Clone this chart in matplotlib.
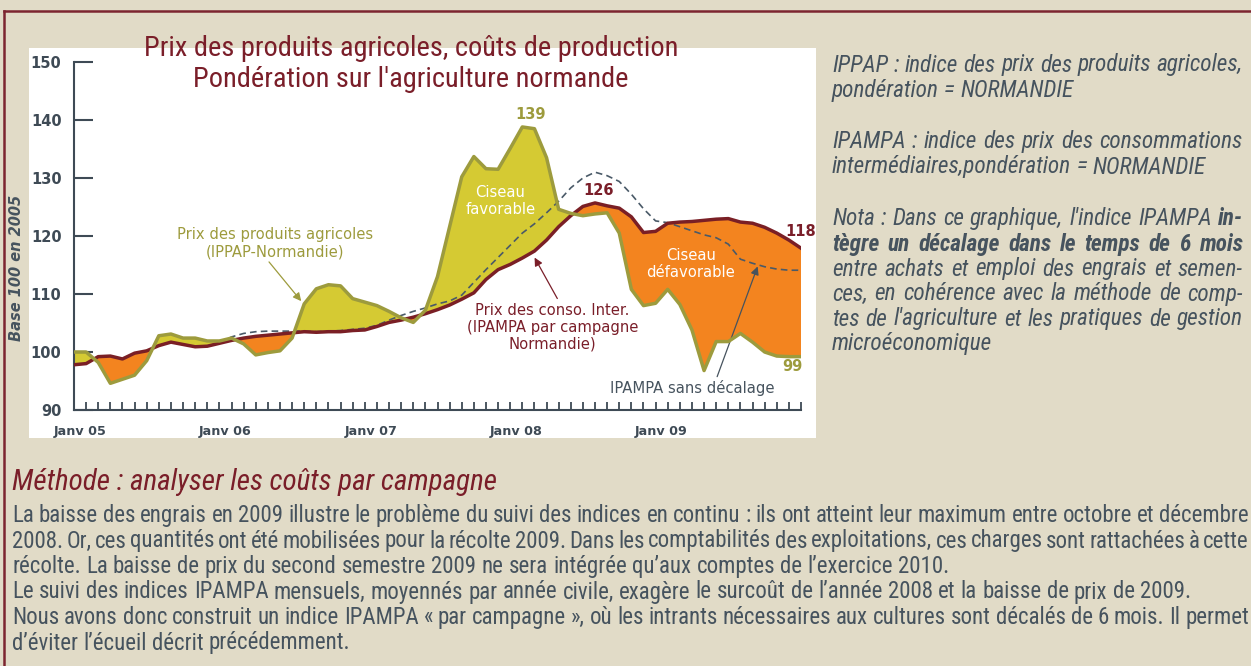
import numpy as np
import matplotlib
matplotlib.use("Agg")
import matplotlib.pyplot as plt
from matplotlib.patches import Rectangle
from matplotlib.lines import Line2D
from matplotlib.font_manager import FontProperties
from matplotlib import font_manager as fm

# ---------------- data ----------------
months = np.arange(61)  # 0 = janvier 2005 ... 60 = janvier 2010
year_pos = [0, 12, 24, 36, 48]
year_labels = ["Janv 05", "Janv 06", "Janv 07", "Janv 08", "Janv 09"]
yticks = [90, 100, 110, 120, 130, 140, 150]

ippap = [100.0, 100.0, 98.2, 94.6, 95.3, 96.0, 98.5, 102.8, 103.1, 102.4,
         102.4, 101.9, 101.9, 102.4, 101.4, 99.5, 99.9, 100.2, 102.4, 108.3,
         110.9, 111.6, 111.4, 109.2, 108.6, 108.0, 107.0, 105.9, 105.1, 107.2,
         113.0, 121.6, 130.2, 133.7, 131.6, 131.5, 135.1, 138.8, 138.5, 133.5,
         124.6, 123.9, 123.5, 123.8, 124.0, 120.5, 110.8, 108.0, 108.4, 110.8,
         108.2, 103.8, 96.8, 101.8, 101.8, 103.2, 101.7, 100.0, 99.3, 99.2,
         99.2]

ipampa_campagne = [97.8, 98.0, 99.2, 99.3, 98.8, 99.8, 100.2, 101.1, 101.7, 101.3,
                   100.9, 101.0, 101.5, 102.0, 102.4, 102.7, 102.9, 103.1, 103.3, 103.5,
                   103.4, 103.5, 103.5, 103.7, 103.8, 104.4, 105.1, 105.5, 106.0, 106.6,
                   107.3, 108.1, 109.1, 110.2, 112.5, 114.2, 115.1, 116.2, 117.4, 119.3,
                   121.6, 123.5, 125.1, 125.7, 125.2, 124.8, 123.3, 120.6, 120.8, 122.2,
                   122.4, 122.5, 122.7, 122.9, 123.0, 122.4, 122.2, 121.5, 120.5, 119.3,
                   117.9]

ipampa_sans_decalage = [97.8, 98.0, 99.2, 99.3, 98.8, 99.8, 100.2, 101.1, 101.7, 101.3,
                        100.9, 101.0, 101.6, 102.6, 103.2, 103.5, 103.6, 103.6, 103.6, 103.6,
                        103.5, 103.6, 103.7, 103.9, 104.1, 104.6, 105.5, 106.3, 107.0, 107.6,
                        108.3, 108.8, 109.8, 112.0, 114.2, 116.3, 118.4, 120.5, 122.1, 124.0,
                        126.0, 128.3, 130.0, 131.0, 130.4, 129.4, 127.2, 124.7, 122.6, 122.3,
                        121.6, 120.9, 120.2, 119.7, 118.6, 116.0, 115.3, 114.7, 114.3, 114.1,
                        114.1]

title_lines = ["Prix des produits agricoles, coûts de production",
               "Pondération sur l'agriculture normande"]

right_paras = [
    [("IPPAP : indice des prix des produits agricoles,", ""), ("pondération = NORMANDIE", "")],
    [("IPAMPA : indice des prix des consommations", ""), ("intermédiaires,pondération = NORMANDIE", "")],
    [("Nota : Dans ce graphique, l'indice IPAMPA", "in-"),
     ("", "tègre un décalage dans le temps de 6 mois"),
     ("entre achats et emploi des engrais et semen-", ""),
     ("ces, en cohérence avec la méthode de comp-", ""),
     ("tes de l'agriculture et les pratiques de gestion", ""),
     ("microéconomique", "")],
]

heading = "Méthode : analyser les coûts par campagne"
body_lines = [
    ("La baisse des engrais en 2009 illustre le problème du suivi des indices en continu : ils ont atteint leur maximum entre octobre et décembre", True),
    ("2008. Or, ces quantités ont été mobilisées pour la récolte 2009. Dans les comptabilités des exploitations, ces charges sont rattachées à cette", True),
    ("récolte. La baisse de prix du second semestre 2009 ne sera intégrée qu’aux comptes de l’exercice 2010.", False),
    ("Le suivi des indices IPAMPA mensuels, moyennés par année civile, exagère le surcoût de l’année 2008 et la baisse de prix de 2009.", False),
    ("Nous avons donc construit un indice IPAMPA « par campagne », où les intrants nécessaires aux cultures sont décalés de 6 mois. Il permet", True),
    ("d’éviter l’écueil décrit précédemment.", False),
]

# ---------------- style ----------------
BG = "#E1DBC7"
FRAME = "#7C2530"
MAROON = "#7A1E29"
SLATE = "#46535E"
AXC = "#3E4A55"
YELLOW = "#D5CA33"
ORANGE = "#F3841F"
OLIVE = "#9D9B3D"
REDLINE = "#7A1F25"
DASH = "#4A5A68"


def pick(cands):
    for c in cands:
        try:
            fm.findfont(FontProperties(family=c), fallback_to_default=False)
            return c
        except Exception:
            pass
    return "DejaVu Sans"


NARROW = pick(["Roboto Condensed", "Liberation Sans Narrow", "Open Sans Condensed", "DejaVu Sans"])

W, H = 1251, 666
fig = plt.figure(figsize=(W / 100, H / 100), dpi=100, facecolor=BG)
renderer = fig.canvas.get_renderer()


def fx(x):
    return x / W


def fy(y):
    return 1 - y / H


def text_width(s, fp):
    t = fig.text(0, 0, s, fontproperties=fp)
    w = t.get_window_extent(renderer).width
    t.remove()
    return w


def fit_size(s, target, **kw):
    fp = FontProperties(size=10, **kw)
    return 10 * target / text_width(s, fp)


def draw_tokens(tokens, x0, x1, ybase, size, justify, color, style):
    fps = [FontProperties(family=NARROW, style=style,
                          weight="bold" if b else "normal", size=size) for _, b in tokens]
    widths = [text_width(w, fp) for (w, _), fp in zip(tokens, fps)]
    space = text_width("a a", fps[0]) - text_width("aa", fps[0])
    if justify and len(tokens) > 1:
        gap = (x1 - x0 - sum(widths)) / (len(tokens) - 1)
    else:
        gap = space
    x = x0
    for (w, _), fp, wd in zip(tokens, fps, widths):
        fig.text(fx(x), fy(ybase), w, fontproperties=fp, color=color,
                 va="baseline", ha="left")
        x += wd + gap


# frame and white chart panel
fig.add_artist(Rectangle((fx(29), fy(438)), (816 - 29) / W, (438 - 48) / H,
                         transform=fig.transFigure, fc="white", ec="none", zorder=-5))
fig.add_artist(Line2D([fx(4), fx(4)], [fy(11), 0], transform=fig.transFigure,
                      color=FRAME, lw=1.8))
fig.add_artist(Line2D([fx(4), 1], [fy(11), fy(11)], transform=fig.transFigure,
                      color=FRAME, lw=1.8))

# ---------------- chart ----------------
ax = fig.add_axes([fx(74), fy(410), (801 - 74) / W, (410 - 62) / H])
ax.patch.set_visible(False)
ax.set_xlim(0, 60)
ax.set_ylim(90, 150)

ip = np.array(ippap)
cp = np.array(ipampa_campagne)
ax.fill_between(months, ip, cp, where=ip >= cp, interpolate=True, color=YELLOW, lw=0, zorder=1)
ax.fill_between(months, ip, cp, where=ip < cp, interpolate=True, color=ORANGE, lw=0, zorder=1)
ax.plot(months, ipampa_sans_decalage, color=DASH, lw=1.2, dashes=(4, 2.5), zorder=2)
ax.plot(months, ipampa_campagne, color=REDLINE, lw=2.5, zorder=3, solid_joinstyle="round")
ax.plot(months, ippap, color=OLIVE, lw=2.5, zorder=4, solid_joinstyle="round")

for s in ["top", "right"]:
    ax.spines[s].set_visible(False)
for s in ["left", "bottom"]:
    ax.spines[s].set_color(AXC)
    ax.spines[s].set_linewidth(1.5)

ax.set_yticks(yticks)
ax.set_yticklabels([str(v) for v in yticks], fontsize=10.5, fontweight="bold", color=AXC)
ax.tick_params(axis="y", direction="in", length=13.5, width=1.5, color=AXC, pad=9)
ax.set_xticks([])
ax.set_xticks(np.arange(1, 61), minor=True)
ax.tick_params(axis="x", which="minor", direction="in", length=6, width=1.3, color=AXC)
for p, lab in zip(year_pos, year_labels):
    ax.text(p + 0.5, -0.063, lab, transform=ax.get_xaxis_transform(), ha="center",
            va="center", fontsize=9.2, fontweight="bold", color=AXC)

afont = dict(fontsize=10.6, family="DejaVu Sans")
ax.text(16.6, 118.7, "Prix des produits agricoles\n(IPPAP-Normandie)", ha="center",
        va="center", color=OLIVE, linespacing=1.2, **afont)
ax.annotate("", xy=(18.9, 108.4), xytext=(15.95, 115.9),
            arrowprops=dict(arrowstyle="-|>", color=OLIVE, lw=0.9, mutation_scale=12))
ax.text(39.5, 104.3, "Prix des conso. Inter.\n(IPAMPA par campagne\nNormandie)", ha="center",
        va="center", color=MAROON, linespacing=1.15, **afont)
ax.annotate("", xy=(37.9, 116.7), xytext=(40.0, 108.8),
            arrowprops=dict(arrowstyle="-|>", color=MAROON, lw=0.9, mutation_scale=12))
ax.text(51.0, 93.8, "IPAMPA sans décalage", ha="center", va="center", color=SLATE, **afont)
ax.annotate("", xy=(56.5, 115.2), xytext=(53.0, 95.3),
            arrowprops=dict(arrowstyle="-|>", color=SLATE, lw=0.9, mutation_scale=12))
ax.text(35.2, 126.0, "Ciseau\nfavorable", ha="center", va="center", color="white",
        linespacing=1.2, **afont)
ax.text(50.9, 115.2, "Ciseau\ndéfavorable", ha="center", va="center", color="white",
        linespacing=1.2, **afont)
ax.text(37.7, 140.9, "139", ha="center", va="center", color=OLIVE, fontweight="bold", fontsize=10.5)
ax.text(43.3, 127.9, "126", ha="center", va="center", color=MAROON, fontweight="bold", fontsize=10.5)
ax.text(60.0, 120.7, "118", ha="center", va="center", color=MAROON, fontweight="bold", fontsize=10.5)
ax.text(59.3, 97.5, "99", ha="center", va="center", color=OLIVE, fontweight="bold", fontsize=10.5)

fig.text(fx(17), fy(268), "Base 100 en 2005", rotation=90, ha="center", va="center",
         fontsize=10.5, fontweight="bold", style="italic", color=SLATE)

# ---------------- titles and texts ----------------
tsize = fit_size(title_lines[0], 532, family=NARROW)
for line, yb in zip(title_lines, [56, 87]):
    fig.text(fx(411), fy(yb), line, ha="center", va="baseline", color=MAROON,
             fontproperties=FontProperties(family=NARROW, size=tsize))

rsize = fit_size("intermédiaires,pondération = NORMANDIE", 374, family=NARROW, style="italic")
rbases = [[71.5, 97], [148, 173.5], [225, 250.5, 275.5, 300.5, 325.5, 350]]
for para, bases in zip(right_paras, rbases):
    for i, ((normal, bold), yb) in enumerate(zip(para, bases)):
        tokens = [(w, False) for w in normal.split()] + [(w, True) for w in bold.split()]
        justify = i < len(para) - 1
        draw_tokens(tokens, 832, 1243, yb, rsize, justify, SLATE, "italic")

hsize = fit_size(heading, 485, family=NARROW, style="italic")
fig.text(fx(12), fy(490), heading, ha="left", va="baseline", color=MAROON,
         fontproperties=FontProperties(family=NARROW, style="italic", size=hsize))

bsize = fit_size(body_lines[3][0], 1168, family=NARROW)
for (line, just), yb in zip(body_lines, [522, 547.5, 573, 598.5, 624, 649.5]):
    tokens = [(w, False) for w in line.split()]
    draw_tokens(tokens, 12, 1249, yb, bsize, just, SLATE, "normal")

fig.savefig("out.png", dpi=100, facecolor=BG)
